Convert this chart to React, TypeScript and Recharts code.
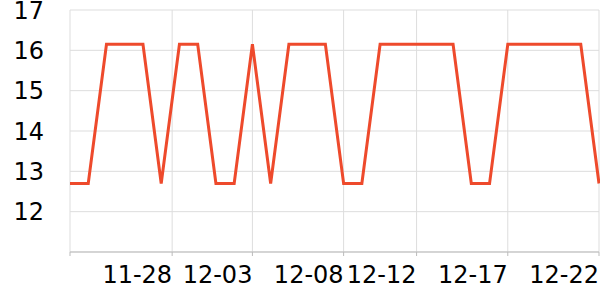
import { LineChart, Line, XAxis, YAxis, CartesianGrid } from "recharts";

const dates = [
  "11-23", "11-24", "11-25", "11-26", "11-27", "11-28", "11-29", "11-30", "12-01", "12-02",
  "12-03", "12-04", "12-05", "12-06", "12-07", "12-08", "12-09", "12-10", "12-11", "12-12",
  "12-13", "12-14", "12-15", "12-16", "12-17", "12-18", "12-19", "12-20", "12-21", "12-22",
];

const values = [
  12.7, 12.7, 16.15, 16.15, 16.15, 12.7, 16.15, 16.15, 12.7, 12.7,
  16.15, 12.7, 16.15, 16.15, 16.15, 12.7, 12.7, 16.15, 16.15, 16.15,
  16.15, 16.15, 12.7, 12.7, 16.15, 16.15, 16.15, 16.15, 16.15, 12.7,
];

// x tick positions (day index) and their labels
const tickDays = [0, 5.6, 10, 15, 19, 24, 29];
const tickLabels = ["", "11-28", "12-03", "12-08", "12-12", "12-17", "12-22"];

const yTicks = [12, 13, 14, 15, 16, 17];

const data = dates.map((date, i) => ({ day: i, date, value: values[i] }));

const App = () => {
  return (
    <div style={{ position: "absolute", left: 0, top: 0 }}>
      <LineChart
        width={600}
        height={300}
        data={data}
        margin={{ top: 10, right: 1, bottom: 0, left: 0 }}
        style={{ fontFamily: "DejaVu Sans" }}
      >
        <CartesianGrid stroke="#dddddd" strokeWidth={1} />
        <XAxis
          dataKey="day"
          type="number"
          domain={[0, 29]}
          ticks={tickDays}
          tickFormatter={(v: number) => tickLabels[tickDays.indexOf(v)]}
          interval={0}
          height={48}
          stroke="#bbbbbb"
          tickSize={4}
          tickMargin={10}
          tick={{ fill: "#000", fontSize: 24, textAnchor: "end" }}
        />
        <YAxis
          domain={[11, 17]}
          ticks={yTicks}
          width={70}
          axisLine={false}
          tickLine={false}
          tickSize={6}
          tickMargin={20}
          interval={0}
          tick={{ fill: "#000", fontSize: 24 }}
        />
        <Line
          type="linear"
          dataKey="value"
          stroke="#ee4a2c"
          strokeWidth={3}
          dot={false}
          isAnimationActive={false}
        />
      </LineChart>
    </div>
  );
};

export default App;
